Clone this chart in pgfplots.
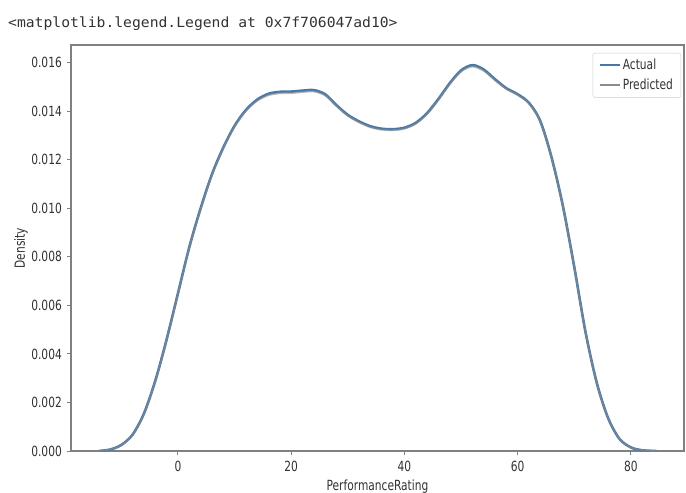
\documentclass[border=0pt]{standalone}
\usepackage{fontspec}
\setmainfont{DejaVu Sans}[FakeStretch=0.76]
\newfontfamily\monofont{DejaVu Sans Mono}[FakeStretch=1.05]
\usepackage{pgfplots}
\pgfplotsset{compat=1.18}
\definecolor{actualc}{RGB}{70,120,168}
\definecolor{predc}{RGB}{140,140,140}
\definecolor{framec}{RGB}{128,128,128}
\definecolor{textc}{RGB}{50,50,50}
\definecolor{legc}{RGB}{204,204,204}
\begin{document}
\begin{tikzpicture}
\path[use as bounding box] (-71bp,-42bp) rectangle (615bp,451bp);
\node[anchor=base west, inner sep=0pt, text=textc] at (-63bp,423bp) {\monofont\fontsize{14bp}{17bp}\selectfont <matplotlib.legend.Legend at 0x7f706047ad10>};
\begin{axis}[
  at={(0,0)}, anchor=south west,
  scale only axis, width=613bp, height=406bp,
  xmin=-18.9, xmax=89.4, ymin=0, ymax=0.01673,
  xtick={0,20,40,60,80},
  ytick={0,0.002,0.004,0.006,0.008,0.010,0.012,0.014,0.016},
  scaled y ticks=false,
  axis line style={framec, line width=1.3bp},
  tick align=outside, major tick length=4bp,
  tick style={framec, line width=1bp},
  xtick pos=bottom, ytick pos=left,
  font=\fontsize{14bp}{17bp}\selectfont,
  /pgf/number format/assume math mode=true,
  yticklabel style={/pgf/number format/.cd, fixed, fixed zerofill, precision=3, /tikz/.cd, anchor=east, inner sep=0pt, xshift=-5bp, text=textc},
  xticklabel style={anchor=north, inner sep=0pt, yshift=-6bp, text=textc},
  xlabel={PerformanceRating}, ylabel={Density},
  xlabel style={at={(axis description cs:0.5,0)}, anchor=base, yshift=-39bp, inner sep=0pt, text=textc},
  ylabel style={at={(axis description cs:-0.0816,0.5)}, anchor=center, inner sep=0pt, text=textc},
  legend style={at={(axis description cs:1,1)}, anchor=north east, xshift=-3bp, yshift=-8bp,
    draw=legc, rounded corners=2bp, fill=white, text=textc,
    font=\fontsize{14bp}{17bp}\selectfont, row sep=4bp, inner xsep=6bp, inner ysep=4bp},
  legend image code/.code={\draw[#1, opacity=1, line width=2bp] (0bp,0bp) -- (20bp,0bp);},
  legend cell align=left,
]
\addplot[actualc, line width=2.6bp, smooth] coordinates {
(-14,0) (-12,0.00006) (-10,0.00025) (-8,0.00068) (-6,0.00155) (-4,0.0029) (-2,0.0046)
(0,0.0065) (2,0.0084) (4,0.0100) (6,0.0114) (8,0.0125) (10,0.0134) (12,0.01405)
(14,0.01448) (16,0.01472) (18,0.0148) (20,0.01481) (22,0.01485) (24,0.01487) (26,0.0147)
(28,0.01425) (30,0.01385) (32,0.01358) (34,0.01338) (36,0.01328) (38,0.01326) (40,0.01332)
(42,0.01352) (44,0.01392) (46,0.0145) (48,0.01515) (50,0.01568) (52,0.0159) (54,0.01572)
(56,0.01532) (58,0.01495) (60,0.0147) (62,0.01435) (64,0.0136) (66,0.0121) (68,0.0101)
(70,0.0076) (72,0.0049) (74,0.0028) (76,0.00135) (78,0.0005) (80,0.00015) (82,0.00003) (84.5,0)
};
\addlegendentry{Actual}
\addplot[predc, line width=1.8bp, smooth, draw opacity=0.6] coordinates {
(-14,0) (-12,0.00006) (-10,0.00024) (-8,0.00067) (-6,0.00154) (-4,0.00288) (-2,0.00458)
(0,0.00648) (2,0.00838) (4,0.00997) (6,0.01137) (8,0.01247) (10,0.01337) (12,0.01401)
(14,0.01443) (16,0.01466) (18,0.01474) (20,0.01475) (22,0.01479) (24,0.01481) (26,0.01465)
(28,0.01421) (30,0.01381) (32,0.01354) (34,0.01334) (36,0.01324) (38,0.01322) (40,0.01328)
(42,0.01348) (44,0.01388) (46,0.01446) (48,0.01511) (50,0.01563) (52,0.01584) (54,0.01567)
(56,0.01528) (58,0.01492) (60,0.01467) (62,0.01432) (64,0.01358) (66,0.01208) (68,0.01008)
(70,0.00759) (72,0.00489) (74,0.00279) (76,0.00135) (78,0.0005) (80,0.00015) (82,0.00003) (84.5,0)
};
\addlegendentry{Predicted}
\end{axis}
\end{tikzpicture}
\end{document}
